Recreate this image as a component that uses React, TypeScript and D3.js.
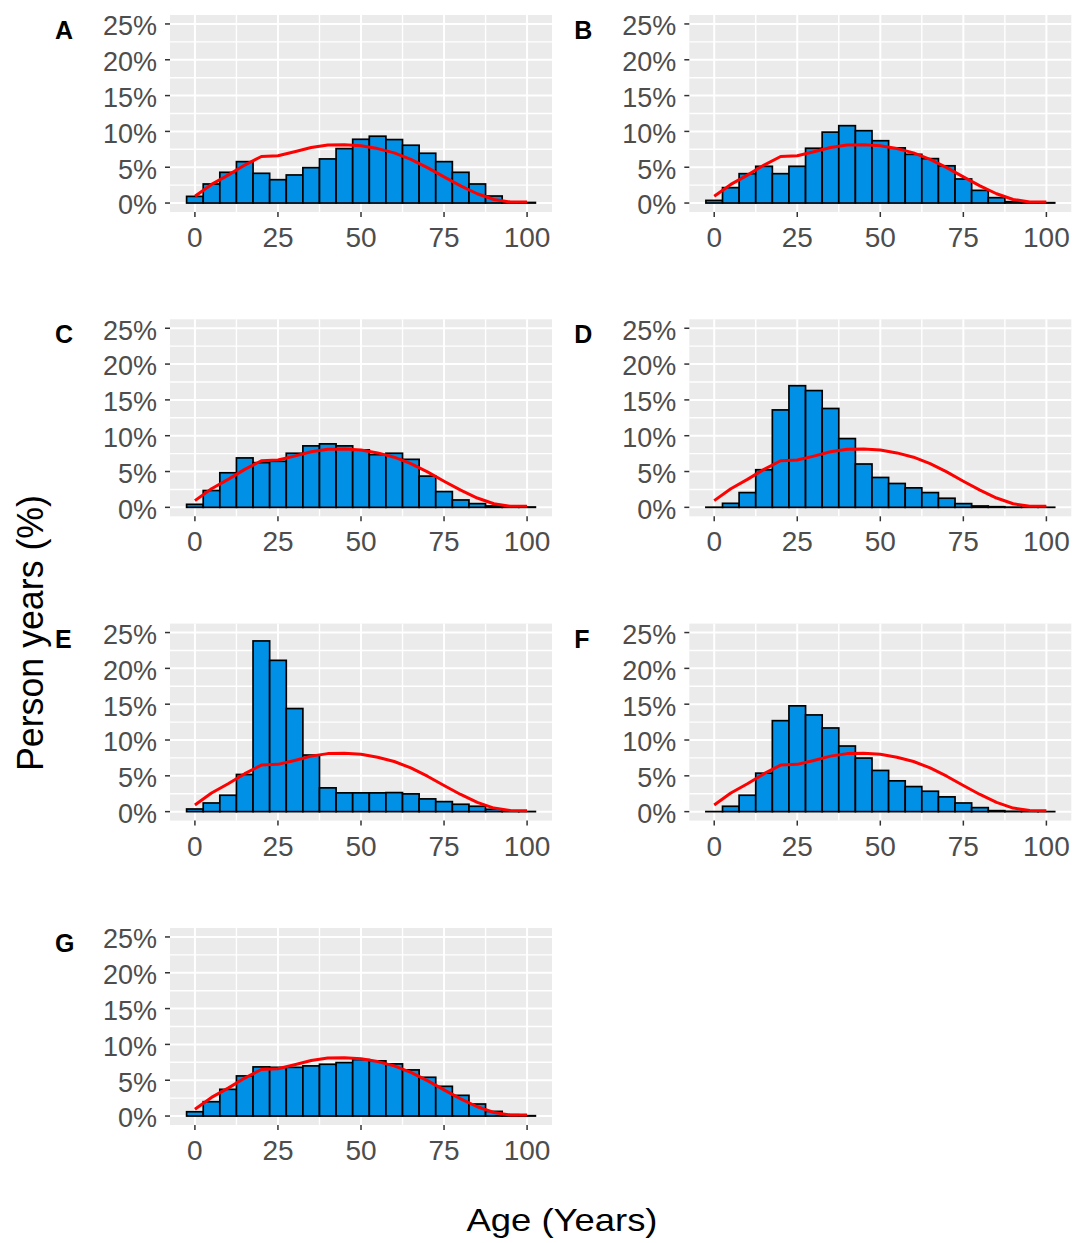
import React from "react";
import * as d3 from "d3";

// age bins (bin centres, 5-year wide)
const ageBins = [0, 5, 10, 15, 20, 25, 30, 35, 40, 45, 50, 55, 60, 65, 70, 75, 80, 85, 90, 95, 100];

// reference distribution (red line), % of person years
const refLine = [0.94, 2.6, 3.9, 5.3, 6.5, 6.6, 7.15, 7.75, 8.1, 8.15, 8.0, 7.6, 7.0, 6.1, 4.95, 3.65, 2.4, 1.3, 0.5, 0.15, 0.14];

const panelA = [0.93, 2.66, 4.29, 5.78, 4.15, 3.26, 3.92, 4.94, 6.16, 7.6, 8.9, 9.33, 8.86, 8.07, 6.95, 5.78, 4.29, 2.66, 0.98, 0.15, 0.08];
const panelB = [0.37, 2.15, 4.1, 5.13, 4.1, 5.13, 7.65, 9.9, 10.8, 10.1, 8.7, 7.7, 6.8, 6.2, 5.2, 3.36, 1.77, 0.75, 0.19, 0.08, 0.05];
const panelC = [0.42, 2.35, 4.83, 6.9, 6.24, 6.43, 7.55, 8.58, 8.86, 8.58, 8.02, 7.36, 7.55, 6.7, 4.36, 2.2, 1.03, 0.52, 0.19, 0.1, 0.05];
const panelD = [0.02, 0.56, 2.06, 5.25, 13.6, 16.98, 16.3, 13.8, 9.6, 6.05, 4.17, 3.33, 2.72, 2.06, 1.27, 0.52, 0.19, 0.09, 0.03, 0.02, 0.01];
const panelE = [0.37, 1.21, 2.29, 5.19, 23.83, 21.12, 14.39, 7.9, 3.32, 2.62, 2.62, 2.62, 2.66, 2.48, 1.78, 1.4, 1.03, 0.75, 0.33, 0.1, 0.02];
const panelF = [0.01, 0.75, 2.29, 5.37, 12.7, 14.77, 13.5, 11.68, 9.16, 7.48, 5.75, 4.3, 3.5, 2.85, 2.06, 1.21, 0.56, 0.14, 0.05, 0.02, 0.01];
const panelG = [0.6, 2.0, 3.73, 5.6, 6.86, 6.8, 6.8, 7.0, 7.23, 7.46, 7.88, 7.7, 7.28, 6.44, 5.41, 4.15, 2.89, 1.68, 0.65, 0.19, 0.05];

const panelLabels = ["A", "B", "C", "D", "E", "F", "G"];
const xTicks = [0, 25, 50, 75, 100];
const xMinor = [12.5, 37.5, 62.5, 87.5];
const yTicks = [0, 5, 10, 15, 20, 25];
const yMinor = [2.5, 7.5, 12.5, 17.5, 22.5];

const panelValues = [panelA, panelB, panelC, panelD, panelE, panelF, panelG];

const W = 1072;
const H = 1243;
const PW = 382;
const PH = 197;
const COL_X = [170, 689.3];
const ROW_Y = [15, 319.3, 623.6, 928];
const FONT = "'Liberation Sans', Arial, Helvetica, sans-serif";
const BIN = 5;

function Panel({ values, label, left, top }) {
  const x = d3.scaleLinear().domain([-7.5, 107.5]).range([0, PW]);
  const y = d3.scaleLinear().domain([-1.25, 26.25]).range([PH, 0]);
  const line = d3
    .line<number>()
    .x((_, i) => x(ageBins[i]))
    .y((d) => y(d));

  return (
    <g transform={`translate(${left},${top})`}>
      <rect x={0} y={0} width={PW} height={PH} fill="#EBEBEB" />
      {xMinor.map((t) => (
        <line key={"xm" + t} x1={x(t)} x2={x(t)} y1={0} y2={PH} stroke="#fff" strokeWidth={1.4} />
      ))}
      {yMinor.map((t) => (
        <line key={"ym" + t} x1={0} x2={PW} y1={y(t)} y2={y(t)} stroke="#fff" strokeWidth={1.4} />
      ))}
      {xTicks.map((t) => (
        <line key={"xM" + t} x1={x(t)} x2={x(t)} y1={0} y2={PH} stroke="#fff" strokeWidth={2} />
      ))}
      {yTicks.map((t) => (
        <line key={"yM" + t} x1={0} x2={PW} y1={y(t)} y2={y(t)} stroke="#fff" strokeWidth={2} />
      ))}

      {values.map((v, i) => (
        <rect
          key={"b" + i}
          x={x(ageBins[i] - BIN / 2)}
          y={y(v)}
          width={x(BIN) - x(0)}
          height={y(0) - y(v)}
          fill="#0091E6"
          stroke="#000"
          strokeWidth={1.7}
        />
      ))}

      <path d={line(refLine) || ""} fill="none" stroke="#FF0000" strokeWidth={3} strokeLinejoin="round" />

      {/* axes ticks */}
      {yTicks.map((t) => (
        <g key={"yt" + t}>
          <line x1={-5} x2={0} y1={y(t)} y2={y(t)} stroke="#333" strokeWidth={1.5} />
          <text x={-13} y={y(t)} dy="0.42em" textAnchor="end" fontSize={27} fill="#4D4D4D" fontFamily={FONT}>
            {t + "%"}
          </text>
        </g>
      ))}
      {xTicks.map((t) => (
        <g key={"xt" + t}>
          <line x1={x(t)} x2={x(t)} y1={PH} y2={PH + 5} stroke="#333" strokeWidth={1.5} />
          <text x={x(t)} y={PH + 35} textAnchor="middle" fontSize={28} fill="#4D4D4D" fontFamily={FONT}>
            {t}
          </text>
        </g>
      ))}

      <text x={-115} y={24} fontSize={25} fontWeight="bold" fill="#000" fontFamily={FONT}>
        {label}
      </text>
    </g>
  );
}

export default function App() {
  return (
    <div style={{ position: "absolute", left: 0, top: 0 }}>
      <svg width={W} height={H} viewBox={`0 0 ${W} ${H}`} style={{ display: "block", background: "#fff" }}>
        {panelValues.map((vals, i) => (
          <Panel
            key={panelLabels[i]}
            values={vals}
            label={panelLabels[i]}
            left={COL_X[i % 2]}
            top={ROW_Y[Math.floor(i / 2)]}
          />
        ))}
        <text
          transform="translate(43,633) rotate(-90)"
          textAnchor="middle"
          fontSize={36}
          textLength={276}
          lengthAdjust="spacingAndGlyphs"
          fill="#000"
          fontFamily={FONT}
        >
          Person years (%)
        </text>
        <text
          x={562}
          y={1231}
          textAnchor="middle"
          fontSize={32}
          textLength={191}
          lengthAdjust="spacingAndGlyphs"
          fill="#000"
          fontFamily={FONT}
        >
          Age (Years)
        </text>
      </svg>
    </div>
  );
}
